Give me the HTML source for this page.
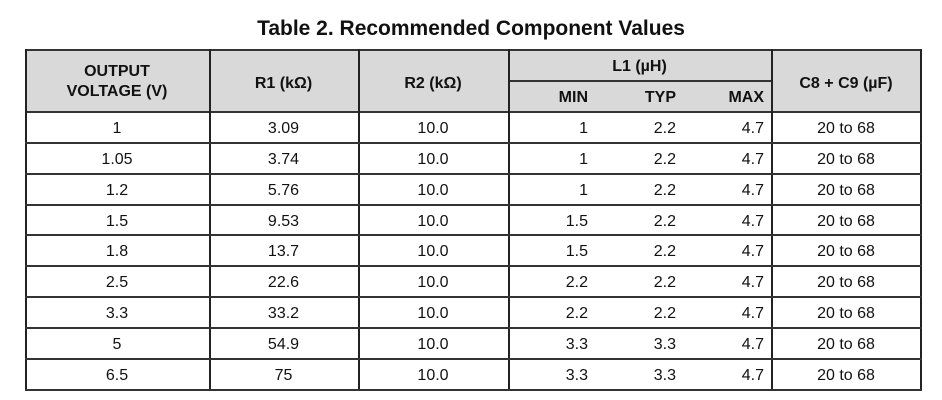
<!DOCTYPE html>
<html><head><style>
body{margin:0;width:942px;height:400px;background:#fff;font-family:"Liberation Sans",Arial,sans-serif;color:#111;position:relative;overflow:hidden}
.a{position:absolute}
.t{position:absolute;font-size:16px;line-height:16px;white-space:nowrap}
.c{text-align:center}
.r{text-align:right}
.b{font-weight:bold}
.h{position:absolute;height:1.5px;background:#333}
.v{position:absolute;width:1.5px;background:#222}
</style></head><body>
<div class="a b" style="left:0;width:942px;top:17px;text-align:center;font-size:21px;line-height:24px">Table 2. Recommended Component Values</div>
<div class="a" style="left:25px;top:49px;width:896px;height:62px;background:#d9d9d9"></div>
<div class="h" style="left:25px;top:49px;width:897px"></div>
<div class="h" style="left:508px;top:80px;width:263px"></div>
<div class="h" style="left:25px;top:111px;width:897px"></div>
<div class="v" style="left:25px;top:49px;height:340px"></div>
<div class="v" style="left:209px;top:49px;height:340px"></div>
<div class="v" style="left:358px;top:49px;height:340px"></div>
<div class="v" style="left:508px;top:49px;height:340px"></div>
<div class="v" style="left:771px;top:49px;height:340px"></div>
<div class="v" style="left:920px;top:49px;height:340px"></div>
<div class="t b c" style="left:25px;width:184px;top:62px;line-height:20px">OUTPUT<br>VOLTAGE (V)</div>
<div class="t b c" style="left:209px;width:149px;top:76px">R1 (kΩ)</div>
<div class="t b c" style="left:358px;width:150px;top:76px">R2 (kΩ)</div>
<div class="t b c" style="left:508px;width:263px;top:59px">L1 (µH)</div>
<div class="t b c" style="left:771px;width:150px;top:76px">C8 + C9 (µF)</div>
<div class="t b r" style="left:500px;width:88px;top:90px">MIN</div>
<div class="t b r" style="left:590px;width:86px;top:90px">TYP</div>
<div class="t b r" style="left:680px;width:84px;top:90px">MAX</div>
<div id="rows"></div>
<script>
var d=[["1","3.09","1","2.2"],["1.05","3.74","1","2.2"],["1.2","5.76","1","2.2"],["1.5","9.53","1.5","2.2"],["1.8","13.7","1.5","2.2"],["2.5","22.6","2.2","2.2"],["3.3","33.2","2.2","2.2"],["5","54.9","3.3","3.3"],["6.5","75","3.3","3.3"]];
var h="";
for(var i=0;i<9;i++){var y=111+i*30.85;var ty=Math.round(y+10);
h+='<div class="t c" style="left:25px;width:184px;top:'+ty+'px">'+d[i][0]+'</div>';
h+='<div class="t c" style="left:209px;width:149px;top:'+ty+'px">'+d[i][1]+'</div>';
h+='<div class="t c" style="left:358px;width:150px;top:'+ty+'px">10.0</div>';
h+='<div class="t r" style="left:500px;width:88px;top:'+ty+'px">'+d[i][2]+'</div>';
h+='<div class="t r" style="left:590px;width:86px;top:'+ty+'px">'+d[i][3]+'</div>';
h+='<div class="t r" style="left:680px;width:84px;top:'+ty+'px">4.7</div>';
h+='<div class="t c" style="left:771px;width:150px;top:'+ty+'px">20 to 68</div>';
h+='<div class="h" style="left:25px;width:897px;top:'+Math.round(y+30.85)+'px"></div>';}
document.getElementById("rows").innerHTML=h;
</script>
</body></html>
